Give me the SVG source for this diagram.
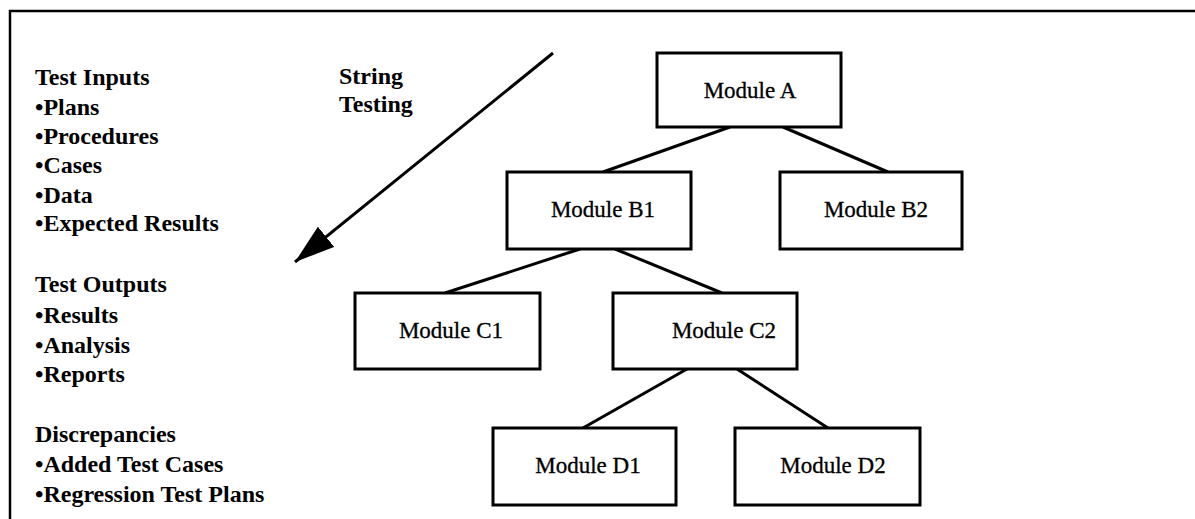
<svg xmlns="http://www.w3.org/2000/svg" width="1195" height="519" viewBox="0 0 1195 519">
  <defs>
    <style>
      .frame { fill: none; stroke: #000; stroke-width: 2.5; }
      .box { fill: #fff; stroke: #000; stroke-width: 3; }
      .link { stroke: #000; stroke-width: 3; fill: none; }
      .label { font-family: "Liberation Serif", "Times New Roman", serif; font-size: 23px; fill: #000; stroke: #000; stroke-width: 0.3; text-anchor: middle; }
      .list { font-family: "Liberation Serif", "Times New Roman", serif; font-size: 24px; font-weight: bold; fill: #000; }
    </style>
    <marker id="arrowhead" markerUnits="userSpaceOnUse" markerWidth="44" markerHeight="28" refX="40" refY="13" orient="auto">
      <path d="M0,0 L40,13 L0,26 Z" fill="#000"/>
    </marker>
  </defs>

  <rect width="1195" height="519" fill="#fff"/>

  <!-- page frame: top rule and left rule only -->
  <path class="frame" d="M10,519 L10,11 L1195,11"/>

  <!-- left-hand lists -->
  <g id="test-lists" class="list">
    <text x="35" y="85">Test Inputs</text>
    <text x="35" y="115">•Plans</text>
    <text x="35" y="144">•Procedures</text>
    <text x="35" y="173">•Cases</text>
    <text x="35" y="203">•Data</text>
    <text x="35" y="231">•Expected Results</text>
    <text x="35" y="292">Test Outputs</text>
    <text x="35" y="323">•Results</text>
    <text x="35" y="353">•Analysis</text>
    <text x="35" y="382">•Reports</text>
    <text x="35" y="442">Discrepancies</text>
    <text x="35" y="472">•Added Test Cases</text>
    <text x="35" y="502">•Regression Test Plans</text>
  </g>

  <!-- string testing direction -->
  <g id="string-testing">
    <text class="list" x="339" y="84">String</text>
    <text class="list" x="339" y="112">Testing</text>
    <line class="link" x1="553" y1="53" x2="295" y2="262" marker-end="url(#arrowhead)"/>
  </g>

  <!-- connectors between modules -->
  <g id="connectors">
    <line class="link" x1="730" y1="127" x2="603" y2="172"/>
    <line class="link" x1="783" y1="127" x2="888" y2="172"/>
    <line class="link" x1="580" y1="249" x2="445" y2="293"/>
    <line class="link" x1="615" y1="249" x2="722" y2="293"/>
    <line class="link" x1="687" y1="369" x2="583" y2="428"/>
    <line class="link" x1="737" y1="369" x2="828" y2="428"/>
  </g>

  <g id="module-a">
    <rect class="box" x="657" y="53" width="184" height="74"/>
    <text class="label" x="750" y="98">Module A</text>
  </g>
  <g id="module-b1">
    <rect class="box" x="507" y="172" width="184" height="77"/>
    <text class="label" x="603" y="217">Module B1</text>
  </g>
  <g id="module-b2">
    <rect class="box" x="780" y="172" width="182" height="77"/>
    <text class="label" x="876" y="217">Module B2</text>
  </g>
  <g id="module-c1">
    <rect class="box" x="355" y="293" width="185" height="76"/>
    <text class="label" x="451" y="338">Module C1</text>
  </g>
  <g id="module-c2">
    <rect class="box" x="613" y="293" width="184" height="76"/>
    <text class="label" x="724" y="338">Module C2</text>
  </g>
  <g id="module-d1">
    <rect class="box" x="493" y="428" width="183" height="77"/>
    <text class="label" x="588" y="473">Module D1</text>
  </g>
  <g id="module-d2">
    <rect class="box" x="735" y="428" width="185" height="77"/>
    <text class="label" x="833" y="473">Module D2</text>
  </g>
</svg>
